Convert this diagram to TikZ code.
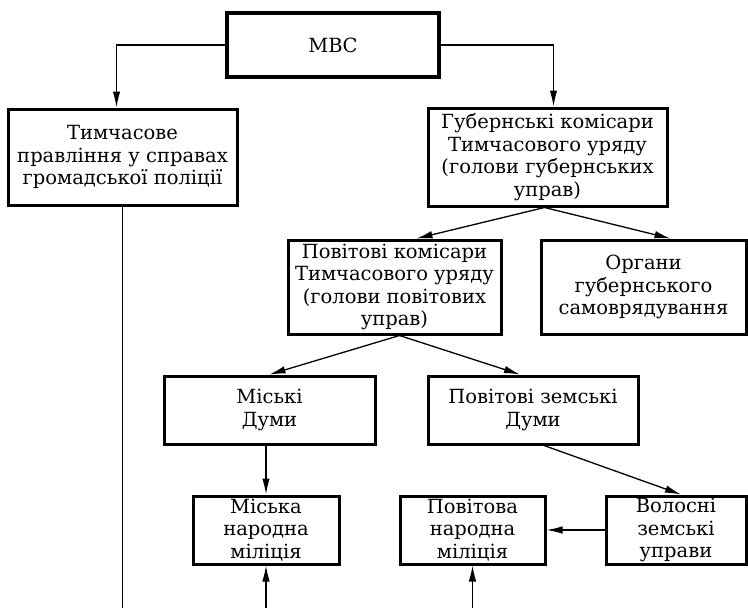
\documentclass[tikz,border=0pt]{standalone}
\usepackage{fontspec}
\setmainfont{DejaVu Serif}
\usepackage{tikz}
\usetikzlibrary{arrows.meta, positioning}

\begin{document}
\begin{tikzpicture}[x=1pt, y=-1pt, font=\fontsize{19.5}{22.5}\selectfont,
  box/.style={draw, line width=3pt, align=center, inner sep=2pt},
  mainbox/.style={box, line width=3.6pt},
  arr/.style={-{Latex[length=16pt, width=7.5pt]}, line width=1.3pt},
  link/.style={line width=1.3pt}]
  \useasboundingbox (0,0) rectangle (748,608);
  \node[mainbox, minimum width=212pt, minimum height=64pt] (mvs) at (333,45) {МВС};
  \node[box, minimum width=229pt, minimum height=96pt] (tymch) at (122.5,157)
       {Тимчасове\\ правління у справах\\ громадської поліції};
  \node[box, minimum width=239pt, minimum height=98pt] (gub) at (547.5,157)
       {Губернські комісари\\ Тимчасового уряду\\ (голови губернських\\ управ)};
  \node[box, minimum width=213pt, minimum height=94pt] (povkom) at (394.5,287)
       {Повітові комісари\\ Тимчасового уряду\\ (голови повітових\\ управ)};
  \node[box, minimum width=205pt, minimum height=94pt, right=37pt of povkom] (organy)
       {Органи\\ губернського\\ самоврядування};
  \node[box, minimum width=211pt, minimum height=68pt] (mduma) at (269.5,410)
       {Міські\\ Думи};
  \node[box, minimum width=210pt, minimum height=68pt, right=50pt of mduma] (pduma)
       {Повітові земські\\ Думи};
  \node[box, minimum width=146pt, minimum height=68pt] (mmil) at (266,530)
       {Міська\\ народна\\ міліція};
  \node[box, minimum width=145pt, minimum height=68pt] (pmil) at (472.5,530)
       {Повітова\\ народна\\ міліція};
  \node[box, minimum width=140pt, minimum height=68pt, right=58pt of pmil] (volost)
       {Волосні\\ земські\\ управи};
  % free ends at the lower edge
  \coordinate (tend) at (122.5,608);
  \coordinate (mend) at (266,608);
  \coordinate (pend) at (472.5,608);
  \draw[arr] (mvs.west) -| ([xshift=-6pt]tymch.north);
  \draw[arr] (mvs.east) -| ([xshift=6pt]gub.north);
  \draw[arr] ([xshift=-3pt]gub.south) -- ([xshift=22pt]povkom.north);
  \draw[arr] ([xshift=-3pt]gub.south) -- ([xshift=27pt]organy.north);
  \draw[arr] ([xshift=5pt]povkom.south) -- (mduma.north);
  \draw[arr] ([xshift=5pt]povkom.south) -- ([xshift=-13pt]pduma.north);
  \draw[arr] (mmil.north |- mduma.south) -- (mmil.north);
  \draw[arr] ([xshift=11pt]pduma.south) -- ([xshift=5pt]volost.north);
  \draw[arr] (volost.west) -- (pmil.east);
  \draw[arr] (mend) -- (mmil.south);
  \draw[arr] (pend) -- (pmil.south);
  \draw[link] (tymch.south) -- (tend);
\end{tikzpicture}
\end{document}
